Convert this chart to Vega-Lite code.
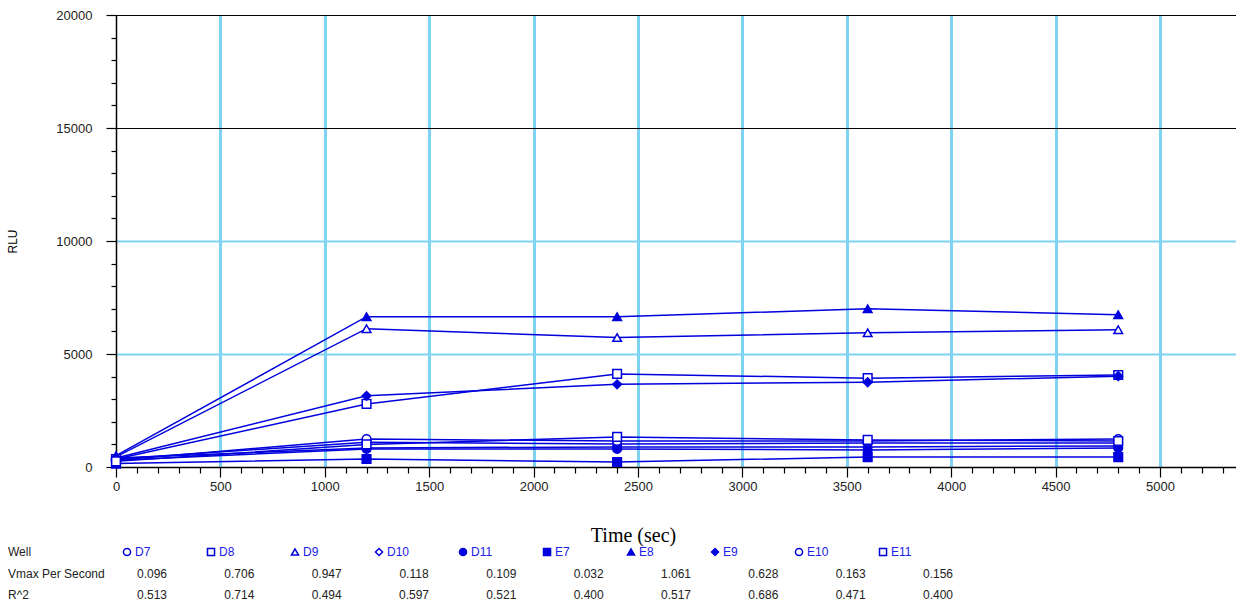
{
  "$schema": "https://vega.github.io/schema/vega-lite/v6.json",
  "padding": {"left": 6, "top": 9, "right": 0, "bottom": 0},
  "spacing": 0,
  "background": "white",
  "config": {"view": {"stroke": null}, "font": "Liberation Sans"},
  "datasets": {
    "series": [
      {"well": "D7", "t": 0, "rlu": 350}, {"well": "D7", "t": 1200, "rlu": 1100}, {"well": "D7", "t": 2400, "rlu": 1020}, {"well": "D7", "t": 3600, "rlu": 1060}, {"well": "D7", "t": 4800, "rlu": 1060},
      {"well": "D8", "t": 0, "rlu": 350}, {"well": "D8", "t": 1200, "rlu": 2790}, {"well": "D8", "t": 2400, "rlu": 4120}, {"well": "D8", "t": 3600, "rlu": 3930}, {"well": "D8", "t": 4800, "rlu": 4070},
      {"well": "D9", "t": 0, "rlu": 450}, {"well": "D9", "t": 1200, "rlu": 6120}, {"well": "D9", "t": 2400, "rlu": 5730}, {"well": "D9", "t": 3600, "rlu": 5940}, {"well": "D9", "t": 4800, "rlu": 6075},
      {"well": "D10", "t": 0, "rlu": 400}, {"well": "D10", "t": 1200, "rlu": 840}, {"well": "D10", "t": 2400, "rlu": 890}, {"well": "D10", "t": 3600, "rlu": 890}, {"well": "D10", "t": 4800, "rlu": 930},
      {"well": "D11", "t": 0, "rlu": 300}, {"well": "D11", "t": 1200, "rlu": 800}, {"well": "D11", "t": 2400, "rlu": 800}, {"well": "D11", "t": 3600, "rlu": 750}, {"well": "D11", "t": 4800, "rlu": 840},
      {"well": "E7", "t": 0, "rlu": 150}, {"well": "E7", "t": 1200, "rlu": 355}, {"well": "E7", "t": 2400, "rlu": 220}, {"well": "E7", "t": 3600, "rlu": 440}, {"well": "E7", "t": 4800, "rlu": 440},
      {"well": "E8", "t": 0, "rlu": 500}, {"well": "E8", "t": 1200, "rlu": 6650}, {"well": "E8", "t": 2400, "rlu": 6650}, {"well": "E8", "t": 3600, "rlu": 7000}, {"well": "E8", "t": 4800, "rlu": 6740},
      {"well": "E9", "t": 0, "rlu": 400}, {"well": "E9", "t": 1200, "rlu": 3150}, {"well": "E9", "t": 2400, "rlu": 3660}, {"well": "E9", "t": 3600, "rlu": 3750}, {"well": "E9", "t": 4800, "rlu": 4020},
      {"well": "E10", "t": 0, "rlu": 300}, {"well": "E10", "t": 1200, "rlu": 1240}, {"well": "E10", "t": 2400, "rlu": 1150}, {"well": "E10", "t": 3600, "rlu": 1150}, {"well": "E10", "t": 4800, "rlu": 1240},
      {"well": "E11", "t": 0, "rlu": 250}, {"well": "E11", "t": 1200, "rlu": 1000}, {"well": "E11", "t": 2400, "rlu": 1330}, {"well": "E11", "t": 3600, "rlu": 1200}, {"well": "E11", "t": 4800, "rlu": 1150}
    ],
    "wells": [
      {"well": "D7", "col": 1, "filled": "no", "vmax": 0.096, "r2": 0.513},
      {"well": "D8", "col": 2, "filled": "no", "vmax": 0.706, "r2": 0.714},
      {"well": "D9", "col": 3, "filled": "no", "vmax": 0.947, "r2": 0.494},
      {"well": "D10", "col": 4, "filled": "no", "vmax": 0.118, "r2": 0.597},
      {"well": "D11", "col": 5, "filled": "yes", "vmax": 0.109, "r2": 0.521},
      {"well": "E7", "col": 6, "filled": "yes", "vmax": 0.032, "r2": 0.400},
      {"well": "E8", "col": 7, "filled": "yes", "vmax": 1.061, "r2": 0.517},
      {"well": "E9", "col": 8, "filled": "yes", "vmax": 0.628, "r2": 0.686},
      {"well": "E10", "col": 9, "filled": "no", "vmax": 0.163, "r2": 0.471},
      {"well": "E11", "col": 10, "filled": "no", "vmax": 0.156, "r2": 0.400}
    ]
  },
  "vconcat": [
    {
      "width": 1120,
      "height": 452,
      "data": {"name": "series"},
      "transform": [
        {"lookup": "well", "from": {"data": {"name": "wells"}, "key": "well", "fields": ["filled"]}}
      ],
      "encoding": {
        "x": {
          "field": "t", "type": "quantitative",
          "scale": {"domain": [0, 5364], "nice": false, "zero": false},
          "axis": {
            "values": [0,100,200,300,400,500,600,700,800,900,1000,1100,1200,1300,1400,1500,1600,1700,1800,1900,2000,2100,2200,2300,2400,2500,2600,2700,2800,2900,3000,3100,3200,3300,3400,3500,3600,3700,3800,3900,4000,4100,4200,4300,4400,4500,4600,4700,4800,4900,5000,5100,5200,5300],
            "format": "d",
            "labelExpr": "datum.value % 500 === 0 ? datum.label : ''",
            "labelFontSize": 13, "labelColor": "#222", "labelPadding": 3,
            "labelFlush": false, "labelOverlap": false,
            "tickColor": "#000", "tickWidth": 1.2,
            "tickSize": {"condition": {"test": "datum.value % 500 === 0", "value": 10}, "value": 6},
            "domainColor": "#000", "domainWidth": 1.5,
            "grid": true,
            "gridColor": "#7fd3f2", "gridWidth": 3,
            "gridOpacity": {"condition": {"test": "datum.value % 500 === 0 && datum.value > 0", "value": 1}, "value": 0},
            "title": "Time (sec)",
            "titleFont": "Liberation Serif", "titleFontSize": 20, "titleFontWeight": "normal", "titleColor": "#000",
            "titleX": 517, "titlePadding": 32
          }
        },
        "y": {
          "field": "rlu", "type": "quantitative",
          "scale": {"domain": [0, 20000], "nice": false},
          "axis": {
            "values": [0,1000,2000,3000,4000,5000,6000,7000,8000,9000,10000,11000,12000,13000,14000,15000,16000,17000,18000,19000,20000],
            "format": "d",
            "labelExpr": "datum.value % 5000 === 0 ? datum.label : ''",
            "labelFontSize": 13, "labelColor": "#222", "labelPadding": 14,
            "labelFlush": false, "labelOverlap": false,
            "tickColor": "#000", "tickWidth": 1.2,
            "tickSize": {"condition": {"test": "datum.value % 5000 === 0", "value": 10}, "value": 5},
            "domainColor": "#000", "domainWidth": 1.5,
            "grid": true,
            "gridColor": {"condition": {"test": "datum.value >= 15000", "value": "#000000"}, "value": "#7fd3f2"},
            "gridWidth": {"condition": {"test": "datum.value >= 15000", "value": 1.2}, "value": 1.8},
            "gridOpacity": {"condition": {"test": "datum.value % 5000 === 0 && datum.value > 0", "value": 1}, "value": 0},
            "title": "RLU",
            "titleFontSize": 12, "titleFontWeight": "normal", "titleColor": "#000", "titlePadding": 36
          }
        }
      },
      "layer": [
        {
          "mark": {"type": "line", "color": "#0000dd", "strokeWidth": 1.5},
          "encoding": {"detail": {"field": "well", "type": "nominal"}}
        },
        {
          "mark": {"type": "point", "stroke": "#0000dd", "strokeWidth": 1.5, "size": 75, "opacity": 1},
          "encoding": {
            "shape": {
              "field": "well", "type": "nominal",
              "scale": {"domain": ["D7","D8","D9","D10","D11","E7","E8","E9","E10","E11"], "range": ["circle","square","triangle-up","diamond","circle","square","triangle-up","diamond","circle","square"]},
              "legend": null
            },
            "fill": {
              "field": "filled", "type": "nominal",
              "scale": {"domain": ["yes","no"], "range": ["#0000dd","#ffffff"]},
              "legend": null
            }
          }
        }
      ]
    },
    {
      "width": 1120,
      "height": 43,
      "resolve": {"scale": {"x": "independent"}},
      "layer": [
        {
          "data": {"values": [{"row": "Well", "label": "Well"}, {"row": "vmax", "label": "Vmax Per Second"}, {"row": "r2", "label": "R^2"}]},
          "mark": {"type": "text", "align": "left", "baseline": "middle", "fontSize": 12, "color": "#222", "dx": -35},
          "encoding": {
            "x": {"datum": 0, "type": "quantitative", "scale": {"domain": [0.869, 14.202], "nice": false, "zero": false}, "axis": null},
            "y": {"field": "row", "type": "nominal", "scale": {"type": "point", "domain": ["Well","vmax","r2"], "padding": 0}, "axis": null},
            "text": {"field": "label"}
          }
        },
        {
          "data": {"name": "wells"},
          "mark": {"type": "point", "stroke": "#0000dd", "strokeWidth": 1.5, "size": 50, "opacity": 1},
          "encoding": {
            "x": {"field": "col", "type": "quantitative", "scale": {"domain": [0.869, 14.202], "nice": false, "zero": false}, "axis": null},
            "y": {"datum": "Well", "type": "nominal"},
            "shape": {
              "field": "well", "type": "nominal",
              "scale": {"domain": ["D7","D8","D9","D10","D11","E7","E8","E9","E10","E11"], "range": ["circle","square","triangle-up","diamond","circle","square","triangle-up","diamond","circle","square"]},
              "legend": null
            },
            "fill": {
              "field": "filled", "type": "nominal",
              "scale": {"domain": ["yes","no"], "range": ["#0000dd","#ffffff"]},
              "legend": null
            }
          }
        },
        {
          "data": {"name": "wells"},
          "mark": {"type": "text", "align": "left", "baseline": "middle", "fontSize": 12, "color": "#2020e8", "dx": 8},
          "encoding": {
            "x": {"field": "col", "type": "quantitative", "scale": {"domain": [0.869, 14.202], "nice": false, "zero": false}, "axis": null},
            "y": {"datum": "Well", "type": "nominal"},
            "text": {"field": "well"}
          }
        },
        {
          "data": {"name": "wells"},
          "transform": [{"fold": ["vmax", "r2"], "as": ["row", "v"]}],
          "mark": {"type": "text", "align": "center", "baseline": "middle", "fontSize": 12, "color": "#222"},
          "encoding": {
            "x": {"field": "col", "type": "quantitative", "scale": {"domain": [0.5878, 13.412], "nice": false, "zero": false}, "axis": null},
            "y": {"field": "row", "type": "nominal"},
            "text": {"field": "v", "type": "quantitative", "format": ".3f"}
          }
        }
      ]
    }
  ]
}
